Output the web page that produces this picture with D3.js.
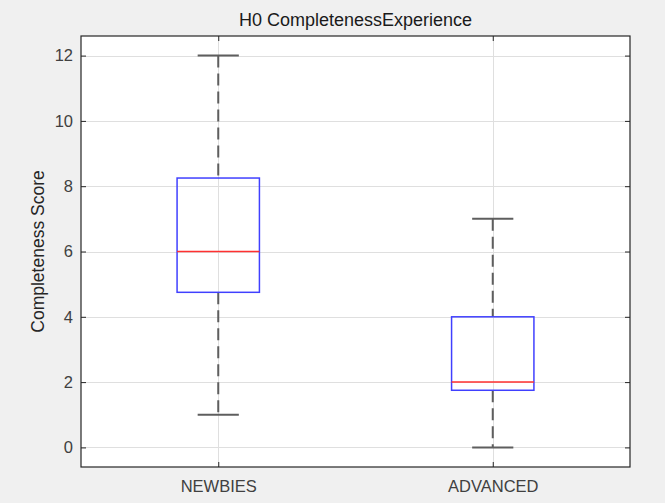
<!DOCTYPE html>
<html>
<head>
<meta charset="utf-8">
<script src="https://cdn.jsdelivr.net/npm/d3@7/dist/d3.min.js"></script>
<style>
  html, body { margin: 0; padding: 0; background: #f0f0f0; }
  svg { display: block; font-family: "Liberation Sans", Arial, Helvetica, sans-serif; }
</style>
</head>
<body>
<svg id="chart" width="665" height="503"></svg>
<script>
// Box-plot summaries for each experience group
const categories = ["NEWBIES", "ADVANCED"];
const whiskerLow = [1, 0];
const q1 = [4.75, 1.75];
const median = [6, 2];
const q3 = [8.25, 4];
const whiskerHigh = [12, 7];
const yTicks = [0, 2, 4, 6, 8, 10, 12];

const title = "H0 CompletenessExperience";
const yLabel = "Completeness Score";

const svg = d3.select("#chart");
svg.append("rect").attr("width", 665).attr("height", 503).attr("fill", "#f0f0f0");

const plotLeft = 81, plotRight = 630, plotTop = 36, plotBottom = 467;

// Positions 1..n on a continuous scale with half a unit of padding each side
const x = d3.scaleLinear().domain([0.5, categories.length + 0.5]).range([plotLeft, plotRight]);
const y = d3.scaleLinear().domain([-0.6, 12.6]).range([plotBottom, plotTop]);

const boxHalf = 0.15;   // box half-width in category units
const capHalf = 0.075;  // whisker cap half-width

// Plot area
svg.append("rect")
  .attr("x", plotLeft).attr("y", plotTop)
  .attr("width", plotRight - plotLeft).attr("height", plotBottom - plotTop)
  .attr("fill", "#ffffff");

// Grid lines
const grid = svg.append("g").attr("stroke", "#dfdfdf").attr("stroke-width", 1);
yTicks.forEach(t => {
  grid.append("line")
    .attr("x1", plotLeft).attr("x2", plotRight)
    .attr("y1", Math.round(y(t)) + 0.5).attr("y2", Math.round(y(t)) + 0.5);
});
categories.forEach((c, i) => {
  grid.append("line")
    .attr("x1", Math.round(x(i + 1)) + 0.5).attr("x2", Math.round(x(i + 1)) + 0.5)
    .attr("y1", plotTop).attr("y2", plotBottom);
});

// Boxes, whiskers and medians
const boxes = svg.append("g");
categories.forEach((c, i) => {
  const cx = x(i + 1);
  const g = boxes.append("g");
  // dashed whiskers
  [[whiskerLow[i], q1[i]], [q3[i], whiskerHigh[i]]].forEach(([a, b]) => {
    g.append("line")
      .attr("x1", cx).attr("x2", cx)
      .attr("y1", y(b)).attr("y2", y(a))
      .attr("stroke", "#5e5e5e").attr("stroke-width", 2)
      .attr("stroke-dasharray", "12,6");
  });
  // caps
  [whiskerLow[i], whiskerHigh[i]].forEach(v => {
    g.append("line")
      .attr("x1", x(i + 1 - capHalf)).attr("x2", x(i + 1 + capHalf))
      .attr("y1", y(v)).attr("y2", y(v))
      .attr("stroke", "#5e5e5e").attr("stroke-width", 2);
  });
  // box
  g.append("rect")
    .attr("x", x(i + 1 - boxHalf)).attr("y", y(q3[i]))
    .attr("width", x(i + 1 + boxHalf) - x(i + 1 - boxHalf))
    .attr("height", y(q1[i]) - y(q3[i]))
    .attr("fill", "none").attr("stroke", "#4040ff").attr("stroke-width", 1.5);
  // median
  g.append("line")
    .attr("x1", x(i + 1 - boxHalf)).attr("x2", x(i + 1 + boxHalf))
    .attr("y1", y(median[i])).attr("y2", y(median[i]))
    .attr("stroke", "#ff3030").attr("stroke-width", 1.5);
});

// Axes: ticks point inward, on both sides
const tickColor = "#262626";
const labelColor = "#404040";
const yAxis = d3.axisLeft(y).tickValues(yTicks).tickSize(-5).tickPadding(8).tickFormat(d3.format("d"));
const gy = svg.append("g").attr("transform", `translate(${plotLeft},0)`).call(yAxis);
const yAxisR = d3.axisRight(y).tickValues(yTicks).tickSize(-5).tickFormat("");
const gyr = svg.append("g").attr("transform", `translate(${plotRight},0)`).call(yAxisR);
const xAxis = d3.axisBottom(x).tickValues(categories.map((c, i) => i + 1))
  .tickSize(-5).tickPadding(13).tickFormat((d) => categories[d - 1]);
const gx = svg.append("g").attr("transform", `translate(0,${plotBottom})`).call(xAxis);
const xAxisT = d3.axisTop(x).tickValues(categories.map((c, i) => i + 1)).tickSize(-5).tickFormat("");
const gxt = svg.append("g").attr("transform", `translate(0,${plotTop})`).call(xAxisT);

[gy, gyr, gx, gxt].forEach(g => {
  g.select(".domain").remove();
  g.selectAll(".tick line").attr("stroke", tickColor).attr("stroke-width", 1);
  g.selectAll(".tick text").attr("fill", labelColor).attr("font-size", 16.5)
    .attr("font-family", "\"Liberation Sans\", Arial, sans-serif");
});

// Axes frame
svg.append("rect")
  .attr("x", plotLeft).attr("y", plotTop)
  .attr("width", plotRight - plotLeft).attr("height", plotBottom - plotTop)
  .attr("fill", "none").attr("stroke", "#262626").attr("stroke-width", 1.2);

// Title and axis label
svg.append("text")
  .attr("x", (plotLeft + plotRight) / 2).attr("y", 26)
  .attr("text-anchor", "middle").attr("font-size", 18).attr("fill", "#1a1a1a")
  .text(title);

svg.append("text")
  .attr("transform", `translate(44,${(plotTop + plotBottom) / 2}) rotate(-90)`)
  .attr("text-anchor", "middle").attr("font-size", 17.5).attr("fill", "#262626")
  .text(yLabel);
</script>
</body>
</html>
